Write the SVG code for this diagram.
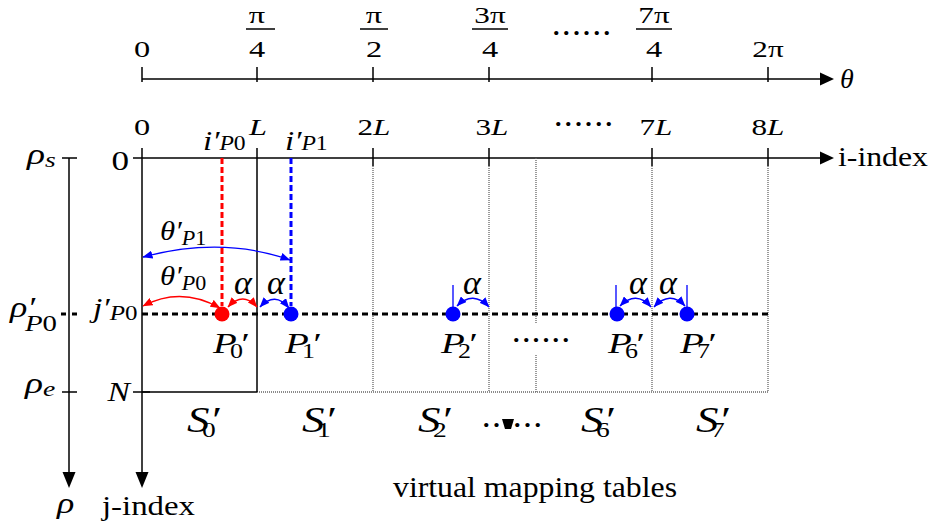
<svg xmlns="http://www.w3.org/2000/svg" width="938" height="529" viewBox="0 0 938 529">
<defs>
<style>
text{font-family:"Liberation Serif","Times New Roman",serif;fill:#000}
.it{font-style:italic}
.rm{font-style:normal}
.n22{font-size:24px}
.ax{stroke:#000;stroke-width:1.5;fill:none}
.gd{stroke:#666;stroke-width:1.3;stroke-dasharray:1 1;fill:none}
.bd{stroke:#000;stroke-width:3;stroke-dasharray:6 4;fill:none}
.rdash{stroke:#f00;stroke-width:3;stroke-dasharray:6 3;fill:none}
.bdash{stroke:#00f;stroke-width:3;stroke-dasharray:6 3;fill:none}
.ra{stroke:#f00;stroke-width:1.3;fill:none;marker-start:url(#mr);marker-end:url(#mr)}
.ba{stroke:#00f;stroke-width:1.3;fill:none;marker-start:url(#mb);marker-end:url(#mb)}
.bl{stroke:#00f;stroke-width:1.3}
.ah{fill:#000}
</style>
<marker id="mr" markerUnits="userSpaceOnUse" markerWidth="10" markerHeight="8" refX="9.5" refY="4" orient="auto-start-reverse" viewBox="0 0 10 8"><path d="M0,0 L10,4 L0,8 z" fill="#f00"/></marker>
<marker id="mb" markerUnits="userSpaceOnUse" markerWidth="10" markerHeight="8" refX="9.5" refY="4" orient="auto-start-reverse" viewBox="0 0 10 8"><path d="M0,0 L10,4 L0,8 z" fill="#00f"/></marker>
</defs>
<rect width="938" height="529" fill="#fff"/>

<g id="theta-axis">
<line class="ax" x1="142" y1="79" x2="822" y2="79"/>
<polygon class="ah" points="820,72.5 834,79 820,85.5"/>
<path class="ax" d="M142,67V82M257,67V82M373,67V82M489,67V82M652,67V82M768,67V82"/>
<text class="it" x="840" y="88" font-size="28">θ</text>
<text class="n22" transform="translate(142,57) scale(1.35,1)" text-anchor="middle">0</text>
<text class="n22" transform="translate(257,23) scale(1.35,1)" text-anchor="middle">π</text>
<text class="n22" transform="translate(257,57) scale(1.35,1)" text-anchor="middle">4</text>
<text class="n22" transform="translate(374,23) scale(1.35,1)" text-anchor="middle">π</text>
<text class="n22" transform="translate(374,57) scale(1.35,1)" text-anchor="middle">2</text>
<text class="n22" transform="translate(490,23) scale(1.3,1)" text-anchor="middle">3π</text>
<text class="n22" transform="translate(490,57) scale(1.35,1)" text-anchor="middle">4</text>
<text class="n22" transform="translate(654,23) scale(1.3,1)" text-anchor="middle">7π</text>
<text class="n22" transform="translate(654,57) scale(1.35,1)" text-anchor="middle">4</text>
<text class="n22" transform="translate(768,57) scale(1.3,1)" text-anchor="middle">2π</text>
<path stroke="#000" stroke-width="1.4" d="M246,29H275M360,29H388M472,29H508M636,29H672"/>
<text x="553" y="35" font-size="26" font-weight="bold" textLength="57" lengthAdjust="spacing">......</text>
</g>

<g id="i-axis">
<line class="ax" x1="133" y1="158" x2="822" y2="158"/>
<polygon class="ah" points="820,151.5 834,158 820,164.5"/>
<text x="838" y="166" font-size="27" textLength="90" lengthAdjust="spacingAndGlyphs">i-index</text>
<text class="n22" transform="translate(142,135) scale(1.35,1)" text-anchor="middle">0</text>
<text class="n22 it" transform="translate(258,135) scale(1.35,1)" text-anchor="middle">L</text>
<text class="n22" transform="translate(374,135) scale(1.3,1)" text-anchor="middle">2<tspan class="it">L</tspan></text>
<text class="n22" transform="translate(492,135) scale(1.3,1)" text-anchor="middle">3<tspan class="it">L</tspan></text>
<text class="n22" transform="translate(656,135) scale(1.3,1)" text-anchor="middle">7<tspan class="it">L</tspan></text>
<text class="n22" transform="translate(768,135) scale(1.3,1)" text-anchor="middle">8<tspan class="it">L</tspan></text>
<text x="555" y="126" font-size="26" font-weight="bold" textLength="57" lengthAdjust="spacing">......</text>
<text class="it" transform="translate(203,150) scale(1.18,1)" font-size="28">i′<tspan font-size="20">P</tspan><tspan class="rm" font-size="20">0</tspan></text>
<text class="it" transform="translate(285,150) scale(1.18,1)" font-size="28">i′<tspan font-size="20">P</tspan><tspan class="rm" font-size="20">1</tspan></text>
</g>

<g id="j-axis">
<line class="ax" x1="142" y1="148" x2="142" y2="474"/>
<polygon class="ah" points="135.5,472 142,488 148.5,472"/>
<path class="ax" d="M133,392H150"/>
<text x="102" y="515" font-size="27" textLength="93" lengthAdjust="spacingAndGlyphs">j-index</text>
<text transform="translate(129,170) scale(1.3,1)" font-size="27" text-anchor="end">0</text>
<text class="it" transform="translate(130,401) scale(1.2,1)" font-size="28" text-anchor="end">N</text>
<text class="it" transform="translate(93,317) scale(1.25,1)" font-size="27">j′<tspan font-size="20" dy="3">P</tspan><tspan class="rm" font-size="20">0</tspan></text>
</g>

<g id="rho-axis">
<line class="ax" x1="69" y1="158" x2="69" y2="474"/>
<polygon class="ah" points="62.5,472 69,488 75.5,472"/>
<path class="ax" d="M62,158H77M62,392H77"/>
<path stroke="#000" stroke-width="3" d="M61,314H66M72,314H77"/>
<text class="it" transform="translate(27,164) scale(1.25,1)" font-size="30">ρ<tspan font-size="22" dy="3">s</tspan></text>
<text class="it" transform="translate(10,317) scale(1.2,1)" font-size="30">ρ′</text>
<text class="it" transform="translate(25,331) scale(1.2,1)" font-size="24">P<tspan class="rm">0</tspan></text>
<text class="it" transform="translate(25,393) scale(1.25,1)" font-size="30">ρ<tspan font-size="22" dy="3">e</tspan></text>
<text class="it" transform="translate(57,513) scale(1.2,1)" font-size="30">ρ</text>
</g>

<g id="tables">
<path class="gd" d="M373,166V392M489,166V392M652,166V392M768,166V392M536,158V323M536,355V392M257,392H768"/>
<path class="ax" d="M257,148V392M142,392H257M373,148V166M489,148V166M652,148V166M768,148V166"/>
<line class="bd" x1="142" y1="314" x2="768" y2="314"/>
<text x="513" y="342" font-size="26" font-weight="bold" textLength="56" lengthAdjust="spacing">......</text>
<text x="483" y="427" font-size="26" font-weight="bold" textLength="58" lengthAdjust="spacing">......</text>
<polygon points="502,419 514,419 511,429 505,429" fill="#000"/>
<text x="393" y="497" font-size="30" textLength="284" lengthAdjust="spacingAndGlyphs">virtual mapping tables</text>
</g>

<g id="connectors">
<line class="rdash" x1="222" y1="158" x2="222" y2="306"/>
<line class="bdash" x1="291" y1="158" x2="291" y2="306"/>
<path class="ba" d="M143,257 Q222,236 290,260"/>
<path class="ra" d="M143,306 Q181,286 220,308"/>
<path class="ra" d="M228,307 Q243,291 257,307"/>
<path class="ba" d="M260,307 Q275,291 289,308"/>
<path class="ba" d="M457,306 Q473,290 489,307"/>
<path class="ba" d="M620,306 Q636,290 651,307"/>
<path class="ba" d="M654,307 Q670,290 685,306"/>
<path class="bl" d="M453,285V308M616,285V308M687,285V308"/>
</g>

<g id="labels-angles">
<text class="it" transform="translate(160,240) scale(1.1,1)" font-size="28">θ′<tspan font-size="20" dy="5">P</tspan><tspan class="rm" font-size="20">1</tspan></text>
<text class="it" transform="translate(160,285) scale(1.1,1)" font-size="28">θ′<tspan font-size="20" dy="5">P</tspan><tspan class="rm" font-size="20">0</tspan></text>
<text class="it" x="243" y="294" font-size="34" text-anchor="middle">α</text>
<text class="it" x="276" y="294" font-size="34" text-anchor="middle">α</text>
<text class="it" x="472" y="294" font-size="34" text-anchor="middle">α</text>
<text class="it" x="638" y="294" font-size="34" text-anchor="middle">α</text>
<text class="it" x="668" y="294" font-size="34" text-anchor="middle">α</text>
</g>

<g id="P0"><circle cx="222" cy="314" r="7.5" fill="#f00"/><text class="it" transform="translate(213,353) scale(1.3,1)" font-size="30">P<tspan class="rm" font-size="20" x="13" y="5">0</tspan><tspan x="20" y="0">′</tspan></text></g>
<g id="P1"><circle cx="291" cy="314" r="7.5" fill="#00f"/><text class="it" transform="translate(285,353) scale(1.3,1)" font-size="30">P<tspan class="rm" font-size="20" x="13" y="5">1</tspan><tspan x="20" y="0">′</tspan></text></g>
<g id="P2"><circle cx="453" cy="314" r="7.5" fill="#00f"/><text class="it" transform="translate(441,353) scale(1.3,1)" font-size="30">P<tspan class="rm" font-size="20" x="13" y="5">2</tspan><tspan x="20" y="0">′</tspan></text></g>
<g id="P6"><circle cx="617" cy="314" r="7.5" fill="#00f"/><text class="it" transform="translate(608,353) scale(1.3,1)" font-size="30">P<tspan class="rm" font-size="20" x="13" y="5">6</tspan><tspan x="20" y="0">′</tspan></text></g>
<g id="P7"><circle cx="687" cy="314" r="7.5" fill="#00f"/><text class="it" transform="translate(680,353) scale(1.3,1)" font-size="30">P<tspan class="rm" font-size="20" x="13" y="5">7</tspan><tspan x="20" y="0">′</tspan></text></g>

<g id="S0"><text class="it" transform="translate(187,432) scale(1.25,1)" font-size="36">S<tspan class="rm" font-size="22" x="12" y="5">0</tspan><tspan x="18" y="0">′</tspan></text></g>
<g id="S1"><text class="it" transform="translate(302,432) scale(1.25,1)" font-size="36">S<tspan class="rm" font-size="22" x="12" y="5">1</tspan><tspan x="18" y="0">′</tspan></text></g>
<g id="S2"><text class="it" transform="translate(418,432) scale(1.25,1)" font-size="36">S<tspan class="rm" font-size="22" x="12" y="5">2</tspan><tspan x="18" y="0">′</tspan></text></g>
<g id="S6"><text class="it" transform="translate(581,432) scale(1.25,1)" font-size="36">S<tspan class="rm" font-size="22" x="12" y="5">6</tspan><tspan x="18" y="0">′</tspan></text></g>
<g id="S7"><text class="it" transform="translate(696,432) scale(1.25,1)" font-size="36">S<tspan class="rm" font-size="22" x="12" y="5">7</tspan><tspan x="18" y="0">′</tspan></text></g>
</svg>
